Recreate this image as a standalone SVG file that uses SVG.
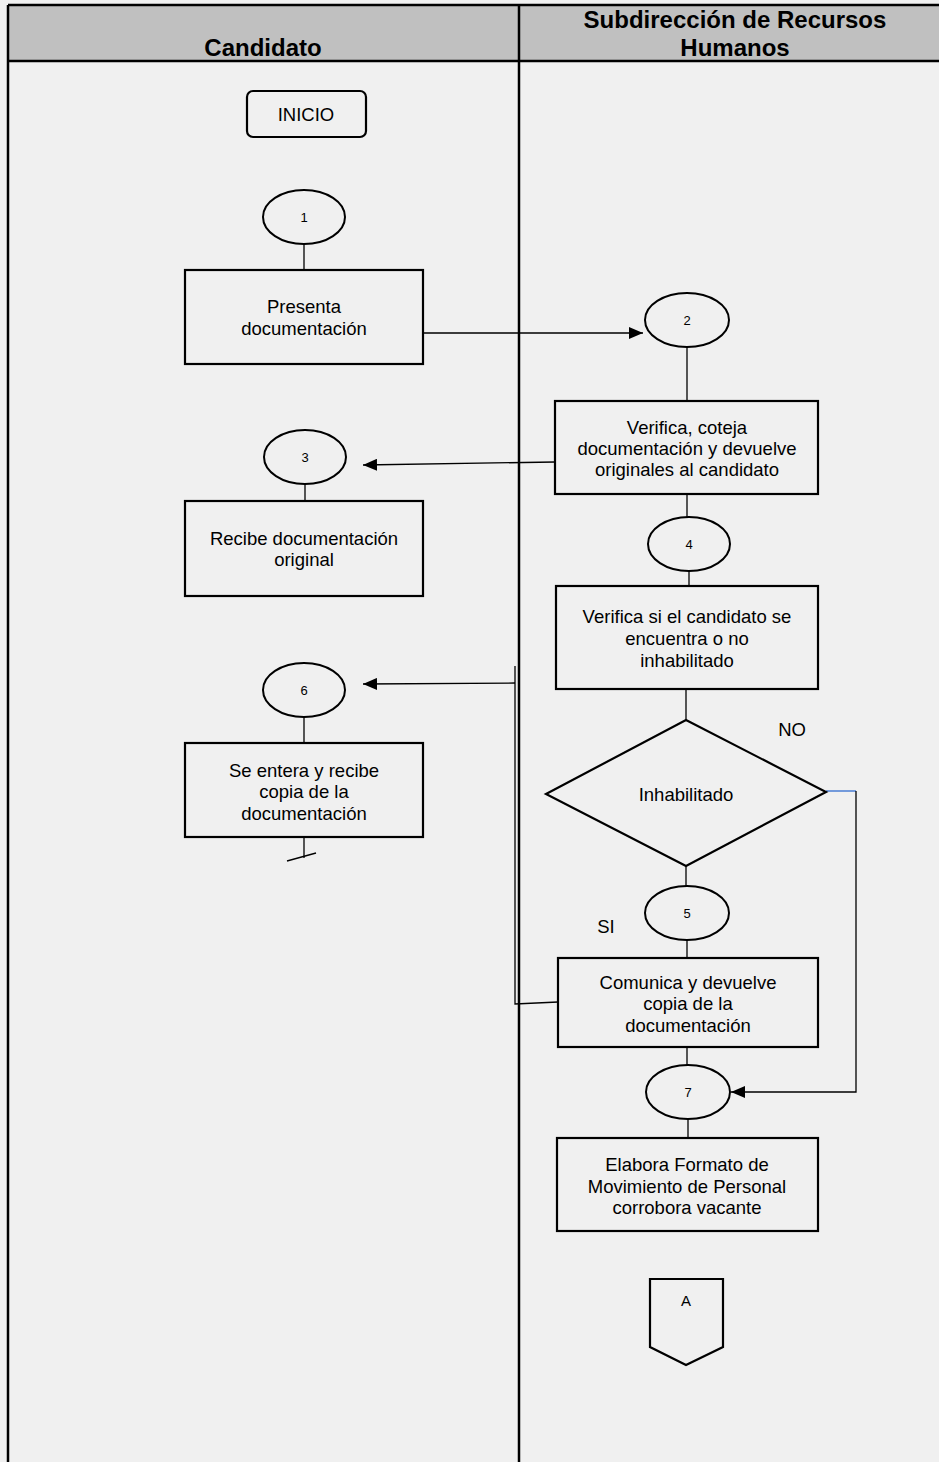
<svg xmlns="http://www.w3.org/2000/svg" width="939" height="1462" viewBox="0 0 939 1462">
<style>
.bg{fill:#f0f0f0}
.hdr{fill:#c0c0c0}
.lane{stroke:#000;stroke-width:2.5;fill:none}
.box{fill:none;stroke:#000;stroke-width:2.2}
.ell{fill:none;stroke:#000;stroke-width:2}
.ln{fill:none;stroke:#000;stroke-width:1.3}
.blue{fill:none;stroke:#2f6bd0;stroke-width:1.3}
.t{font-family:"Liberation Sans",Arial,sans-serif;font-size:18.5px;fill:#000;text-anchor:middle}
.n{font-family:"Liberation Sans",Arial,sans-serif;font-size:13px;fill:#000;text-anchor:middle}
.h{font-family:"Liberation Sans",Arial,sans-serif;font-size:24px;font-weight:bold;fill:#000;text-anchor:middle}
</style>
<defs>
<marker id="ah" viewBox="0 0 14 12" refX="14" refY="6" markerWidth="14" markerHeight="12" markerUnits="userSpaceOnUse" orient="auto">
<path d="M0,0 L14,6 L0,12 Z" fill="#000"/>
</marker>
</defs>
<rect class="bg" x="0" y="0" width="939" height="1462"/>
<g id="lanes">
<rect class="hdr" x="8" y="5" width="931" height="56"/>
<line class="lane" x1="8" y1="5" x2="939" y2="5"/>
<line class="lane" x1="8" y1="61" x2="939" y2="61"/>
<line class="lane" x1="8" y1="5" x2="8" y2="1462"/>
<line class="lane" x1="519" y1="5" x2="519" y2="1462"/>
<text class="h" x="263" y="56">Candidato</text>
<text class="h" x="735" y="28">Subdirección de Recursos</text>
<text class="h" x="735" y="56">Humanos</text>
</g>
<g id="connectors">
<line class="ln" x1="304" y1="244" x2="304" y2="270"/>
<line class="ln" x1="423" y1="333" x2="643" y2="333" marker-end="url(#ah)"/>
<line class="ln" x1="687" y1="347" x2="687" y2="401"/>
<line class="ln" x1="555" y1="462" x2="363" y2="465" marker-end="url(#ah)"/>
<line class="ln" x1="305" y1="483" x2="305" y2="501"/>
<line class="ln" x1="687" y1="494" x2="687" y2="517"/>
<line class="ln" x1="689" y1="571" x2="689" y2="586"/>
<line class="ln" x1="686" y1="689" x2="686" y2="720"/>
<line class="blue" x1="826" y1="791" x2="856" y2="791"/>
<polyline class="ln" points="856,791 856,1092 731,1092" marker-end="url(#ah)"/>
<line class="ln" x1="686" y1="866" x2="686" y2="887"/>
<line class="ln" x1="687" y1="940" x2="687" y2="958"/>
<polyline class="ln" points="558,1002 515,1004 515,666"/>
<line class="ln" x1="515" y1="683" x2="363" y2="684" marker-end="url(#ah)"/>
<line class="ln" x1="304" y1="716" x2="304" y2="743"/>
<line class="ln" x1="304" y1="837" x2="304" y2="858"/>
<line class="ln" x1="287" y1="861" x2="316" y2="853"/>
<line class="ln" x1="687" y1="1047" x2="687" y2="1066"/>
<line class="ln" x1="688" y1="1119" x2="688" y2="1138"/>
</g>
<g id="inicio">
<rect class="box" x="247" y="91" width="119" height="46" rx="6"/>
<text class="t" x="306" y="121">INICIO</text>
</g>
<g id="n1">
<ellipse class="ell" cx="304" cy="217" rx="41" ry="27"/>
<text class="n" x="304" y="222">1</text>
</g>
<g id="presenta">
<rect class="box" x="185" y="270" width="238" height="94"/>
<text class="t" x="304" y="313">Presenta</text>
<text class="t" x="304" y="335">documentación</text>
</g>
<g id="n2">
<ellipse class="ell" cx="687" cy="320" rx="42" ry="27"/>
<text class="n" x="687" y="325">2</text>
</g>
<g id="verifica">
<rect class="box" x="555" y="401" width="263" height="93"/>
<text class="t" x="687" y="434">Verifica, coteja</text>
<text class="t" x="687" y="455">documentación y devuelve</text>
<text class="t" x="687" y="476">originales al candidato</text>
</g>
<g id="n3">
<ellipse class="ell" cx="305" cy="457" rx="41" ry="27"/>
<text class="n" x="305" y="462">3</text>
</g>
<g id="recibe">
<rect class="box" x="185" y="501" width="238" height="95"/>
<text class="t" x="304" y="545">Recibe documentación</text>
<text class="t" x="304" y="566">original</text>
</g>
<g id="n4">
<ellipse class="ell" cx="689" cy="544" rx="41" ry="27"/>
<text class="n" x="689" y="549">4</text>
</g>
<g id="verifica2">
<rect class="box" x="556" y="586" width="262" height="103"/>
<text class="t" x="687" y="623">Verifica si el candidato se</text>
<text class="t" x="687" y="645">encuentra o no</text>
<text class="t" x="687" y="667">inhabilitado</text>
</g>
<g id="decision">
<polygon class="box" points="686,720 826,792 686,866 546,794"/>
<text class="t" x="686" y="801">Inhabilitado</text>
<text class="t" x="792" y="736">NO</text>
<text class="t" x="606" y="933">SI</text>
</g>
<g id="n5">
<ellipse class="ell" cx="687" cy="913" rx="42" ry="27"/>
<text class="n" x="687" y="918">5</text>
</g>
<g id="comunica">
<rect class="box" x="558" y="958" width="260" height="89"/>
<text class="t" x="688" y="989">Comunica y devuelve</text>
<text class="t" x="688" y="1010">copia de la</text>
<text class="t" x="688" y="1032">documentación</text>
</g>
<g id="n6">
<ellipse class="ell" cx="304" cy="690" rx="41" ry="27"/>
<text class="n" x="304" y="695">6</text>
</g>
<g id="seentera">
<rect class="box" x="185" y="743" width="238" height="94"/>
<text class="t" x="304" y="777">Se entera y recibe</text>
<text class="t" x="304" y="798">copia de la</text>
<text class="t" x="304" y="820">documentación</text>
</g>
<g id="n7">
<ellipse class="ell" cx="688" cy="1092" rx="42" ry="27"/>
<text class="n" x="688" y="1097">7</text>
</g>
<g id="elabora">
<rect class="box" x="557" y="1138" width="261" height="93"/>
<text class="t" x="687" y="1171">Elabora Formato de</text>
<text class="t" x="687" y="1193">Movimiento de Personal</text>
<text class="t" x="687" y="1214">corrobora vacante</text>
</g>
<g id="conectorA">
<polygon class="box" points="650,1279 723,1279 723,1347 686,1365 650,1347"/>
<text class="n" x="686" y="1306" style="font-size:15px">A</text>
</g>
</svg>
